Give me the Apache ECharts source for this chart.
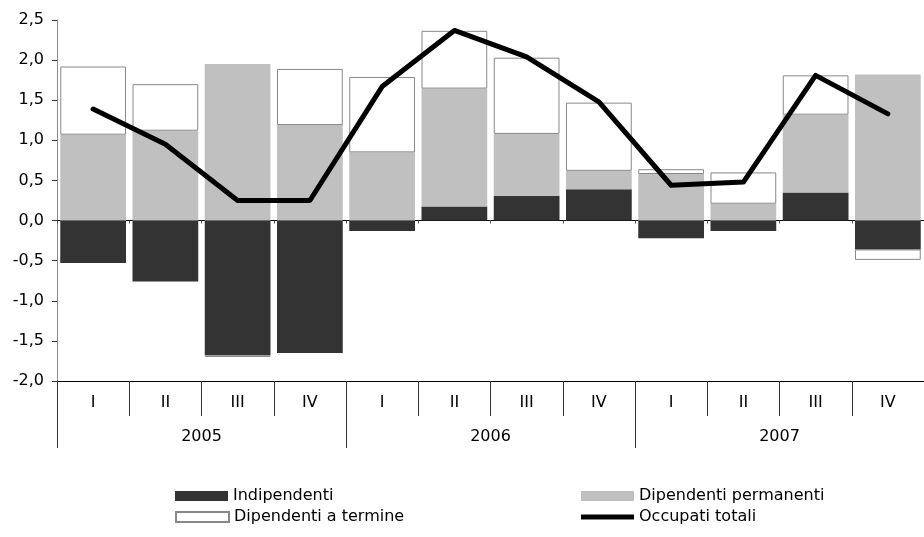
<!DOCTYPE html>
<html>
<head>
    <meta charset="utf-8">
    <title>Occupati</title>
    <script src="https://cdn.jsdelivr.net/npm/echarts@6/dist/echarts.min.js"></script>
    <style>
        body { margin: 0; background: #fff; }
    </style>
</head>
<body>
    <div id="main" style="width: 924px;height:537px;"></div>

    <script type="text/javascript">
        // dati
        var trimestri = ['I', 'II', 'III', 'IV', 'I', 'II', 'III', 'IV', 'I', 'II', 'III', 'IV'];
        var anni = ['2005', '2006', '2007'];
        var indipendenti = [-0.53, -0.76, -1.68, -1.65, -0.13, 0.175, 0.31, 0.39, -0.22, -0.13, 0.35, -0.36];
        var permanenti = [1.07, 1.12, 1.95, 1.19, 0.85, 1.47, 0.77, 0.23, 0.58, 0.21, 0.97, 1.82];
        var aTermine = [0.85, 0.58, -0.02, 0.70, 0.94, 0.72, 0.95, 0.85, 0.06, 0.39, 0.49, -0.13];
        var occupatiTotali = [1.39, 0.95, 0.25, 0.25, 1.67, 2.37, 2.04, 1.48, 0.44, 0.48, 1.81, 1.33];

        var font = "'DejaVu Sans', 'Liberation Sans', Arial, sans-serif";
        var fs = 16;
        var myChart = echarts.init(document.getElementById('main'));

        // una legenda per voce, per poter posizionare e disegnare ogni icona
        function voceLegenda(nome, left, top, h) {
            return {
                left: left,
                top: top,
                icon: 'rect',
                itemWidth: 53,
                itemHeight: h,
                textStyle: { fontSize: fs, color: '#000', fontFamily: font },
                data: [nome]
            };
        }

        var option = {
            animation: false,
            textStyle: { fontFamily: font },
            grid: { left: 57, top: 20, width: 878, height: 361 },
            legend: [
                voceLegenda('Indipendenti', 170, 483, 10),
                voceLegenda('Dipendenti a termine', 170, 504, 10),
                voceLegenda('Dipendenti permanenti', 576, 483, 10),
                voceLegenda('Occupati totali', 576, 504, 5)
            ],
            xAxis: [{
                // asse sullo zero, solo tacche
                type: 'category',
                data: trimestri,
                position: 'bottom',
                axisLine: { show: true, onZero: true, lineStyle: { color: '#000', width: 1 } },
                axisTick: { show: true, interval: 0, length: 3, lineStyle: { color: '#555' } },
                axisLabel: { show: false }
            }, {
                type: 'category',
                data: trimestri,
                position: 'bottom',
                axisLine: { show: true, onZero: false, lineStyle: { color: '#000', width: 1 } },
                axisTick: { show: true, interval: 0, length: 35, lineStyle: { color: '#333' } },
                axisLabel: { margin: 14, fontSize: fs, color: '#000', fontFamily: font }
            }, {
                type: 'category',
                data: anni,
                position: 'bottom',
                axisLine: { show: false, onZero: false },
                axisTick: { show: true, interval: 0, length: 67, lineStyle: { color: '#333' } },
                axisLabel: { margin: 48, fontSize: fs, color: '#000', fontFamily: font }
            }],
            yAxis: {
                type: 'value',
                min: -2,
                max: 2.5,
                interval: 0.5,
                axisLine: { show: true, lineStyle: { color: '#888' } },
                axisTick: { show: true, length: 5, lineStyle: { color: '#333' } },
                splitLine: { show: false },
                axisLabel: {
                    margin: 13,
                    fontSize: fs,
                    color: '#000',
                    fontFamily: font,
                    formatter: function (v) { return v.toFixed(1).replace('.', ','); }
                }
            },
            series: [{
                name: 'Indipendenti',
                type: 'bar',
                stack: 'tot',
                barCategoryGap: '9%',
                data: indipendenti,
                itemStyle: { color: '#333333' }
            }, {
                name: 'Dipendenti permanenti',
                type: 'bar',
                stack: 'tot',
                barCategoryGap: '9%',
                data: permanenti,
                itemStyle: { color: '#c0c0c0' }
            }, {
                name: 'Dipendenti a termine',
                type: 'bar',
                stack: 'tot',
                barCategoryGap: '9%',
                data: aTermine,
                itemStyle: { color: '#ffffff', borderColor: '#888', borderWidth: 1 }
            }, {
                name: 'Occupati totali',
                type: 'line',
                data: occupatiTotali,
                symbol: 'none',
                lineStyle: { color: '#000', width: 5, cap: 'round', join: 'round' },
                itemStyle: { color: '#000' },
                z: 5
            }]
        };

        myChart.setOption(option);
    </script>
</body>
</html>
